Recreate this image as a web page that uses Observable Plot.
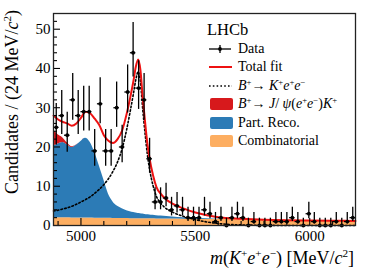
<!DOCTYPE html>
<html><head><meta charset="utf-8">
<script src="https://cdn.jsdelivr.net/npm/d3@7"></script>
<script src="https://cdn.jsdelivr.net/npm/@observablehq/plot@0.6"></script>
<style>
html,body{margin:0;padding:0;background:#fff;}
#wrap{position:relative;width:374px;height:268px;font-family:"Liberation Serif","Times New Roman",serif;color:#000;overflow:hidden;}
.ov{position:absolute;white-space:nowrap;}
sup{font-size:62%;line-height:0;vertical-align:0.6em;}
.row{position:absolute;left:209px;height:18px;width:160px;font-size:14px;line-height:18px;}
.sw{position:absolute;left:0;top:0;width:24px;height:18px;}
.tx{position:absolute;left:29px;top:0;white-space:nowrap;}
</style></head><body><div id="wrap"></div><script>
// ---- data points (bin centres in MeV, counts per 24 MeV) ----
const binMass = [4892,4916,4940,4964,4988,5012,5036,5060,5084,5108,5132,5156,5180,5204,5228,5252,5276,5300,5324,5348,5372,5396,5420,5444,5468,5492,5516,5540,5564,5588,5612,5636,5660,5684,5708,5732,5756,5780,5804,5828,5852,5876,5900,5924,5948,5972,5996,6020,6044,6068,6092,6116,6140,6164,6188];
const counts = [25,28,23,32,28,29,29,19,31,19, 19,30,20,34,44,35,32,17,6,6, 7,4,5,4,2,2,2,4,3,1, 2,0,2,3,2,0,1,0,0,0, 1,1,1,2,1,0,3,1,0,0, 0,1,0,1,2];
const binWidth = 24;

// ---- fit components ----
const fitMass = [4880,4900,4920,4940,4960,4980,5000,5020,5040,5060,5080,5100,5120,5140,5160,5180,5200,5215,5230,5240,5250,5260,5270,5280,5290,5300,5315,5330,5350,5375,5400,5450,5500,5550,5600,5700,5800,5900,6000,6100,6200];
const fitTotal = [28,27,26.4,26,25.4,26,27.4,29,28.6,27.2, 25.6,23,21.6,21,22,24.2,28.5,32.5,37,40.5, 42.3,39.6,32.6,26.5,21,17,12.8,9.8,8,6.5, 5.6,4.3,3.3,2.6,2.1,1.7,1.45,1.33,1.27,1.22, 1.17];
const fitSignal = [3.7,3.9,4.2,4.5,4.9,5.4,6.0,6.6,7.3,8.2, 9.2,10.4,11.9,13.8,16.2,19.6,24.5,29.0,33.8,37.2, 39.2,36.6,29.6,23.6,18.2,14.3,10.2,7.4,5.6,4.2, 3.4,2.3,1.5,0.9,0.5,0.15,0.05,0,0,0, 0];
const fitComb = [2.00,1.99,1.97,1.96,1.94,1.93,1.91,1.90,1.88,1.87, 1.85,1.84,1.82,1.81,1.79,1.78,1.76,1.75,1.74,1.74, 1.73,1.72,1.72,1.71,1.70,1.70,1.69,1.68,1.66,1.65, 1.63,1.60,1.56,1.53,1.50,1.44,1.38,1.32,1.27,1.22, 1.17];
const fitPartReco = [18.3,18.8,19.2,18.6,17.9,18.5,19.5,20.3,19.3,16.7, 13.4,9.8,6.2,4.2,3.1,2.5,2.0,1.75,1.55,1.45, 1.35,1.3,1.2,1.1,1.05,1.0,0.9,0.8,0.75,0.65, 0.55,0.4,0.3,0.2,0.1,0.05,0,0,0,0, 0];
const fitJpsi = [4.0,2.3,1.2,0.5,0.2,0.05,0,0,0,0, 0,0,0,0,0,0,0,0,0,0, 0,0,0,0,0,0,0,0,0,0, 0,0,0,0,0,0,0,0,0,0, 0];

const compNames = ["Combinatorial","Part. Reco.","Jpsi"];
const compColors = ["#fdae61","#2c7bb6","#d7191c"];

// ---- axis ticks ----
const xMajor = [5000,5500,6000];
const xMinor = [4900,5100,5200,5300,5400,5600,5700,5800,5900,6100];
const yMajor = [0,10,20,30,40,50];
const yMinor = [2,4,6,8,12,14,16,18,22,24,26,28,32,34,36,38,42,44,46,48,52];

// build tables
const pts = binMass.map((m,i)=>{
  const n = counts[i];
  const lo = n === 0 ? 0 : n - Math.sqrt(n + 0.25) + 0.5;
  const hi = n + Math.sqrt(n + 0.75) + 1;
  return {m, n, lo, hi, x1: m - binWidth/2, x2: m + binWidth/2};
});
const areaRows = [];
fitMass.forEach((m,i)=>{
  areaRows.push({m, v: fitComb[i], comp: compNames[0]});
  areaRows.push({m, v: fitPartReco[i], comp: compNames[1]});
  areaRows.push({m, v: fitJpsi[i], comp: compNames[2]});
});
const totRows = fitMass.map((m,i)=>({m, v: fitTotal[i]}));
const sigRows = fitMass.map((m,i)=>({m, v: fitSignal[i]}));

const W = 374, H = 268, mL = 53, mR = 19, mT = 13, mB = 43;
const fw = W - mL - mR, fh = H - mT - mB;

const chart = Plot.plot({
  width: W, height: H,
  marginLeft: mL, marginRight: mR, marginTop: mT, marginBottom: mB,
  x: {domain: [4880, 6200]},
  y: {domain: [0, 54]},
  color: {domain: compNames, range: compColors},
  style: {fontFamily: "Liberation Serif, Times New Roman, serif", fontSize: "15px", color: "#000", background: "transparent"},
  marks: [
    Plot.areaY(areaRows, {x: "m", y: "v", fill: "comp", curve: "monotone-x"}),
    Plot.line(sigRows, {x: "m", y: "v", stroke: "#000", strokeWidth: 1.6, strokeDasharray: "1.6,2.2", curve: "monotone-x"}),
    Plot.line(totRows, {x: "m", y: "v", stroke: "#ee1111", strokeWidth: 2, curve: "monotone-x"}),
    Plot.ruleX(pts, {x: "m", y1: "lo", y2: "hi", stroke: "#000", strokeWidth: 1.3}),
    Plot.ruleY(pts, {y: "n", x1: "x1", x2: "x2", stroke: "#000", strokeWidth: 1.3}),
    Plot.dot(pts, {x: "m", y: "n", r: 1.9, fill: "#000", stroke: "none"}),
    Plot.tickY(yMajor, {y: d => d, insetRight: fw - 7, stroke: "#000", strokeWidth: 1.1}),
    Plot.tickY(yMinor, {y: d => d, insetRight: fw - 4, stroke: "#000", strokeWidth: 1.1}),
    Plot.tickX(xMajor, {x: d => d, insetTop: fh - 7, stroke: "#000", strokeWidth: 1.1}),
    Plot.tickX(xMinor, {x: d => d, insetTop: fh - 4, stroke: "#000", strokeWidth: 1.1}),
    Plot.axisY({ticks: yMajor, tickSize: 0, tickPadding: 3, label: null, tickFormat: d => String(d)}),
    Plot.axisX({ticks: xMajor, tickSize: 0, tickPadding: 5, label: null, tickFormat: d => String(d)}),
    Plot.frame({stroke: "#222", strokeWidth: 1.3})
  ]
});
const wrap = document.getElementById("wrap");
wrap.appendChild(chart);
chart.style.position = "absolute"; chart.style.left = "0"; chart.style.top = "0";

function ov(html, style){
  const d = document.createElement("div");
  d.className = "ov"; d.setAttribute("style", style); d.innerHTML = html;
  wrap.appendChild(d); return d;
}
// axis titles
ov('Candidates / (24 MeV/<i>c</i><sup>2</sup>)',
   "left:0;top:0;width:240px;text-align:right;font-size:18px;line-height:18px;transform:translate(3px,250px) rotate(-90deg);transform-origin:0 0;");
ov('<i>m</i>(<i>K</i><sup>+</sup><i>e</i><sup>+</sup><i>e</i><sup>−</sup>) [MeV/<i>c</i><sup>2</sup>]',
   "right:20px;top:249px;font-size:18px;line-height:18px;");
// legend
ov('LHCb', "left:207px;top:21px;font-size:16.5px;line-height:18px;");
const legend = [
  {kind: "data", html: "Data"},
  {kind: "line", html: "Total fit"},
  {kind: "dot",  html: '<i>B</i><sup>+</sup>→ <i>K</i><sup>+</sup><i>e</i><sup>+</sup><i>e</i><sup>−</sup>'},
  {kind: "box", color: compColors[2], html: '<i>B</i><sup>+</sup>→ <i>J</i>/ <i>ψ</i>(<i>e</i><sup>+</sup><i>e</i><sup>−</sup>)<i>K</i><sup>+</sup>'},
  {kind: "box", color: compColors[1], html: "Part. Reco."},
  {kind: "box", color: compColors[0], html: "Combinatorial"}
];
const rowY = [49, 67.4, 85.8, 104.2, 122.6, 141];
legend.forEach((e,i)=>{
  const r = document.createElement("div");
  r.className = "row"; r.style.top = (rowY[i] - 9) + "px";
  let sw = "";
  if (e.kind === "data") sw = '<svg class="sw" width="24" height="18"><line x1="0" x2="22" y1="9" y2="9" stroke="#000" stroke-width="1.3"/><line x1="11" x2="11" y1="5" y2="13" stroke="#000" stroke-width="1.3"/><circle cx="11" cy="9" r="1.9" fill="#000"/></svg>';
  if (e.kind === "line") sw = '<svg class="sw" width="24" height="18"><line x1="0" x2="23" y1="9" y2="9" stroke="#ee1111" stroke-width="2"/></svg>';
  if (e.kind === "dot") sw = '<svg class="sw" width="24" height="18"><line x1="0" x2="23" y1="9" y2="9" stroke="#000" stroke-width="1.4" stroke-dasharray="1.6,2.2"/></svg>';
  if (e.kind === "box") sw = '<svg class="sw" width="24" height="18"><rect x="1" y="3" width="23" height="12" rx="2" fill="' + e.color + '"/></svg>';
  r.innerHTML = sw + '<span class="tx">' + e.html + '</span>';
  wrap.appendChild(r);
});
</script></body></html>
